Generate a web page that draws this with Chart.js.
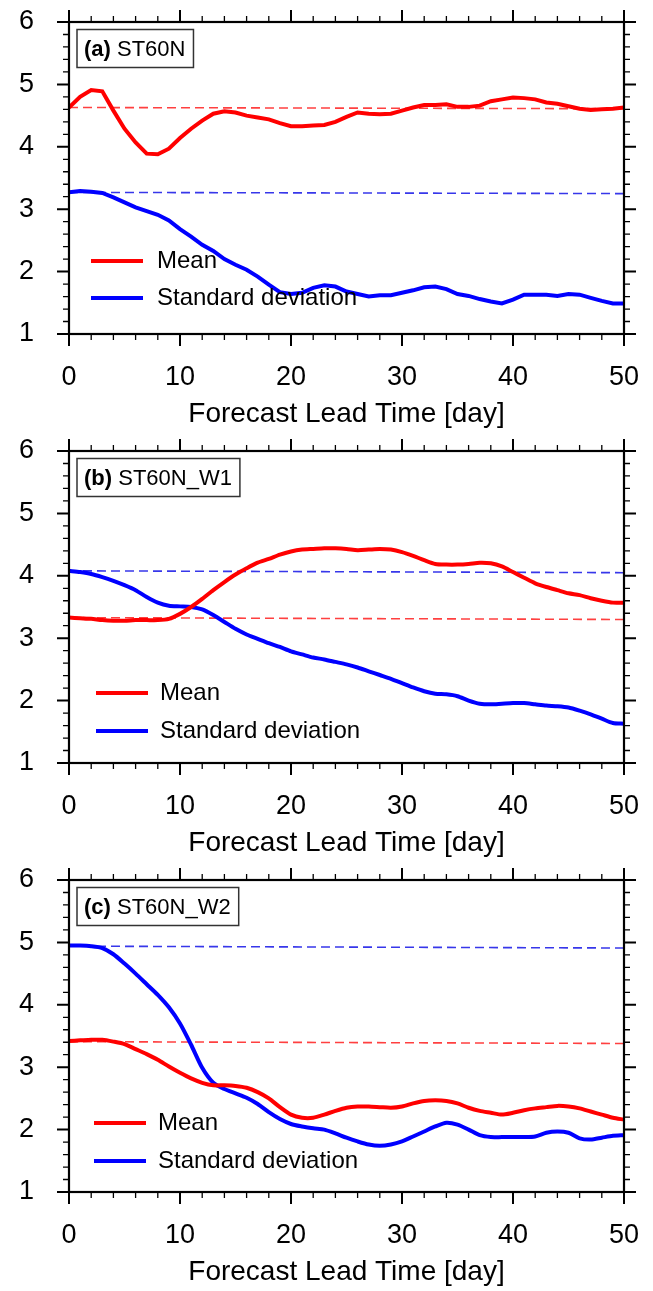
<!DOCTYPE html>
<html>
<head>
<meta charset="utf-8">
<script src="https://cdn.jsdelivr.net/npm/chart.js@4.4.1/dist/chart.umd.min.js"></script>
<style>
  html, body { margin: 0; padding: 0; background: #fff; }
  .panel { position: absolute; left: 0; width: 653px; height: 430px; }
</style>
</head>
<body>
<div class="panel" style="top:0px"><canvas id="chartA"></canvas></div>
<div class="panel" style="top:429px"><canvas id="chartB"></canvas></div>
<div class="panel" style="top:858px"><canvas id="chartC"></canvas></div>
<script>
const days = [0,1,2,3,4,5,6,7,8,9,10,11,12,13,14,15,16,17,18,19,20,21,22,23,24,25,
  26,27,28,29,30,31,32,33,34,35,36,37,38,39,40,41,42,43,44,45,46,47,48,49,50];
const refDays = [0, 50];
const xTicks = [0, 10, 20, 30, 40, 50];
const yTicks = [1, 2, 3, 4, 5, 6];

// (a) ST60N
const meanA = [4.63,4.80,4.91,4.89,4.58,4.29,4.07,3.89,3.88,3.97,4.14,
  4.29,4.42,4.53,4.57,4.55,4.50,4.47,4.44,4.38,4.33,
  4.33,4.34,4.35,4.40,4.48,4.55,4.53,4.52,4.53,4.58,
  4.63,4.67,4.67,4.68,4.64,4.64,4.66,4.73,4.76,4.79,
  4.78,4.76,4.71,4.69,4.65,4.61,4.59,4.60,4.61,4.63];
const stdA = [3.27,3.29,3.28,3.26,3.19,3.11,3.03,2.97,2.91,2.82,2.68,
  2.56,2.43,2.33,2.20,2.11,2.03,1.92,1.79,1.67,1.64,
  1.66,1.74,1.78,1.76,1.68,1.64,1.60,1.62,1.62,1.66,
  1.70,1.75,1.76,1.72,1.64,1.61,1.56,1.52,1.49,1.55,
  1.63,1.63,1.63,1.61,1.64,1.63,1.58,1.53,1.49,1.49];
const meanRefA = [4.63, 4.61];
const stdRefA = [3.27, 3.25];

// (b) ST60N_W1
const meanB = [3.33,3.32,3.31,3.29,3.28,3.28,3.29,3.29,3.29,3.31,3.39,
  3.50,3.63,3.77,3.90,4.02,4.12,4.21,4.27,4.34,4.39,
  4.42,4.43,4.44,4.44,4.43,4.41,4.42,4.43,4.42,4.38,
  4.32,4.25,4.19,4.18,4.18,4.19,4.21,4.20,4.15,4.06,
  3.97,3.88,3.82,3.77,3.72,3.69,3.64,3.60,3.57,3.57];
const stdB = [4.08,4.06,4.03,3.98,3.92,3.85,3.77,3.66,3.57,3.52,3.51,
  3.50,3.46,3.37,3.26,3.15,3.06,2.99,2.92,2.86,2.79,
  2.74,2.69,2.66,2.62,2.58,2.53,2.47,2.41,2.35,2.28,
  2.21,2.15,2.11,2.10,2.07,2.00,1.95,1.94,1.95,1.96,
  1.96,1.94,1.92,1.91,1.89,1.84,1.78,1.71,1.64,1.63];
const meanRefB = [3.33, 3.30];
const stdRefB = [4.08, 4.05];

// (c) ST60N_W2
const meanC = [3.42,3.43,3.44,3.44,3.41,3.37,3.29,3.21,3.12,3.01,2.91,
  2.82,2.75,2.71,2.71,2.70,2.67,2.60,2.50,2.36,2.24,
  2.19,2.19,2.24,2.30,2.35,2.37,2.37,2.36,2.35,2.37,
  2.42,2.46,2.47,2.46,2.42,2.35,2.30,2.27,2.24,2.27,
  2.31,2.34,2.36,2.38,2.37,2.34,2.29,2.24,2.19,2.16];
const stdC = [4.95,4.95,4.94,4.91,4.81,4.66,4.50,4.33,4.16,3.96,3.70,
  3.36,2.99,2.75,2.65,2.58,2.51,2.41,2.28,2.17,2.09,
  2.05,2.02,2.00,1.94,1.87,1.81,1.76,1.74,1.76,1.81,
  1.89,1.97,2.05,2.11,2.08,2.00,1.91,1.88,1.88,1.88,
  1.88,1.89,1.95,1.97,1.95,1.86,1.84,1.87,1.90,1.91];
const meanRefC = [3.41, 3.38];
const stdRefC = [4.94, 4.91];

const FONT = '"Liberation Sans", Arial, Helvetica, sans-serif';
Chart.defaults.font.family = FONT;
Chart.defaults.color = "#000";

const pts = (xs, ys) => xs.map((d, i) => ({ x: d, y: ys[i] }));

// frame + outward major/minor ticks on all four sides
const frameTicks = {
  id: "frameTicks",
  afterDraw(chart) {
    const { ctx, chartArea: a, scales: { x, y } } = chart;
    ctx.save();
    ctx.strokeStyle = "#000";
    for (let v = 0; v <= 50; v += 2) {
      const px = x.getPixelForValue(v);
      const major = v % 10 === 0;
      const len = major ? 12 : 6;
      ctx.lineWidth = major ? 2 : 1.3;
      ctx.beginPath();
      ctx.moveTo(px, a.bottom); ctx.lineTo(px, a.bottom + len);
      ctx.moveTo(px, a.top); ctx.lineTo(px, a.top - len);
      ctx.stroke();
    }
    for (let i = 0; i <= 25; i++) {
      const py = y.getPixelForValue(1 + i * 0.2);
      const major = i % 5 === 0;
      const len = major ? 12 : 6;
      ctx.lineWidth = major ? 2 : 1.3;
      ctx.beginPath();
      ctx.moveTo(a.left, py); ctx.lineTo(a.left - len, py);
      ctx.moveTo(a.right, py); ctx.lineTo(a.right + len, py);
      ctx.stroke();
    }
    ctx.lineWidth = 2.2;
    ctx.strokeRect(a.left, a.top, a.right - a.left, a.bottom - a.top);
    ctx.restore();
  }
};

// "(a) ST60N" label box
const panelBox = {
  id: "panelBox",
  afterDraw(chart, args, opts) {
    const { ctx, chartArea: a } = chart;
    ctx.save();
    const bold = "bold 22px " + FONT;
    const reg = "22px " + FONT;
    ctx.font = bold;
    const w1 = ctx.measureText(opts.tag + " ").width;
    ctx.font = reg;
    const w2 = ctx.measureText(opts.name).width;
    const bx = a.left + 8, by = a.top + 7.5, bw = w1 + w2 + 15, bh = 38;
    ctx.fillStyle = "#fff";
    ctx.fillRect(bx, by, bw, bh);
    ctx.strokeStyle = "#333";
    ctx.lineWidth = 1.5;
    ctx.strokeRect(bx, by, bw, bh);
    ctx.fillStyle = "#000";
    ctx.textBaseline = "middle";
    ctx.font = bold;
    ctx.fillText(opts.tag, bx + 7, by + bh / 2 + 1);
    ctx.font = reg;
    ctx.fillText(opts.name, bx + 7 + w1, by + bh / 2 + 1);
    ctx.restore();
  }
};

// legend drawn inside the plot area
const insideLegend = {
  id: "insideLegend",
  afterDraw(chart, args, opts) {
    const { ctx, chartArea: a } = chart;
    ctx.save();
    chart.data.datasets.filter(d => !d.isRef).forEach((ds, i) => {
      const yy = a.top + opts.rows[i];
      ctx.strokeStyle = ds.borderColor;
      ctx.lineWidth = 4;
      ctx.beginPath();
      ctx.moveTo(a.left + opts.x0, yy);
      ctx.lineTo(a.left + opts.x1, yy);
      ctx.stroke();
      ctx.fillStyle = "#000";
      ctx.font = "24px " + FONT;
      ctx.textBaseline = "middle";
      ctx.fillText(ds.label, a.left + opts.tx, yy);
    });
    ctx.restore();
  }
};

function makePanel(id, tag, name, mean, std, meanRef, stdRef, tension, leg) {
  const ctx = document.getElementById(id).getContext("2d");
  return new Chart(ctx, {
    type: "line",
    data: {
      datasets: [
        { label: "Mean", data: pts(days, mean), borderColor: "#ff0000", borderWidth: 4,
          pointRadius: 0, tension: tension, order: 1 },
        { label: "Standard deviation", data: pts(days, std), borderColor: "#0000ff", borderWidth: 4,
          pointRadius: 0, tension: tension, order: 2 },
        { label: "mean ref", isRef: true, data: pts(refDays, meanRef), borderColor: "rgba(255,30,30,0.85)",
          borderWidth: 1.6, borderDash: [9, 5], pointRadius: 0, order: 3 },
        { label: "std ref", isRef: true, data: pts(refDays, stdRef), borderColor: "rgba(20,20,230,0.85)",
          borderWidth: 1.6, borderDash: [9, 5], pointRadius: 0, order: 4 }
      ]
    },
    options: {
      responsive: true,
      maintainAspectRatio: false,
      animation: false,
      devicePixelRatio: 1,
      layout: { padding: { left: 0, right: 29, top: 22, bottom: 0 } },
      scales: {
        x: {
          type: "linear", min: 0, max: 50,
          afterBuildTicks: s => { s.ticks = xTicks.map(v => ({ value: v })); },
          afterFit: s => { s.height = 96; },
          // tick marks are drawn by frameTicks; tickLength only spaces the labels
          grid: { display: false, drawTicks: true, tickLength: 22 },
          border: { display: false },
          ticks: { padding: 5, font: { size: 27 }, color: "#000" },
          title: { display: true, text: "Forecast Lead Time [day]", color: "#000",
                   font: { size: 28, lineHeight: 1.1 }, padding: { top: 0, bottom: 0 } }
        },
        y: {
          min: 1, max: 6,
          afterBuildTicks: s => { s.ticks = yTicks.map(v => ({ value: v })); },
          afterFit: s => { s.width = 69; },
          grid: { display: false, drawTicks: true, tickLength: 30 },
          border: { display: false },
          ticks: { padding: 5, font: { size: 27 }, color: "#000" }
        }
      },
      plugins: {
        legend: { display: false },
        tooltip: { enabled: false },
        panelBox: { tag: tag, name: name },
        insideLegend: leg
      }
    },
    plugins: [frameTicks, panelBox, insideLegend]
  });
}

makePanel("chartA", "(a)", "ST60N", meanA, stdA, meanRefA, stdRefA, 0,
  { x0: 22, x1: 74, tx: 88, rows: [239, 276] });
makePanel("chartB", "(b)", "ST60N_W1", meanB, stdB, meanRefB, stdRefB, 0.25,
  { x0: 27, x1: 79, tx: 91, rows: [242, 280] });
makePanel("chartC", "(c)", "ST60N_W2", meanC, stdC, meanRefC, stdRefC, 0.25,
  { x0: 25, x1: 77, tx: 89, rows: [243, 281] });
</script>
</body>
</html>
